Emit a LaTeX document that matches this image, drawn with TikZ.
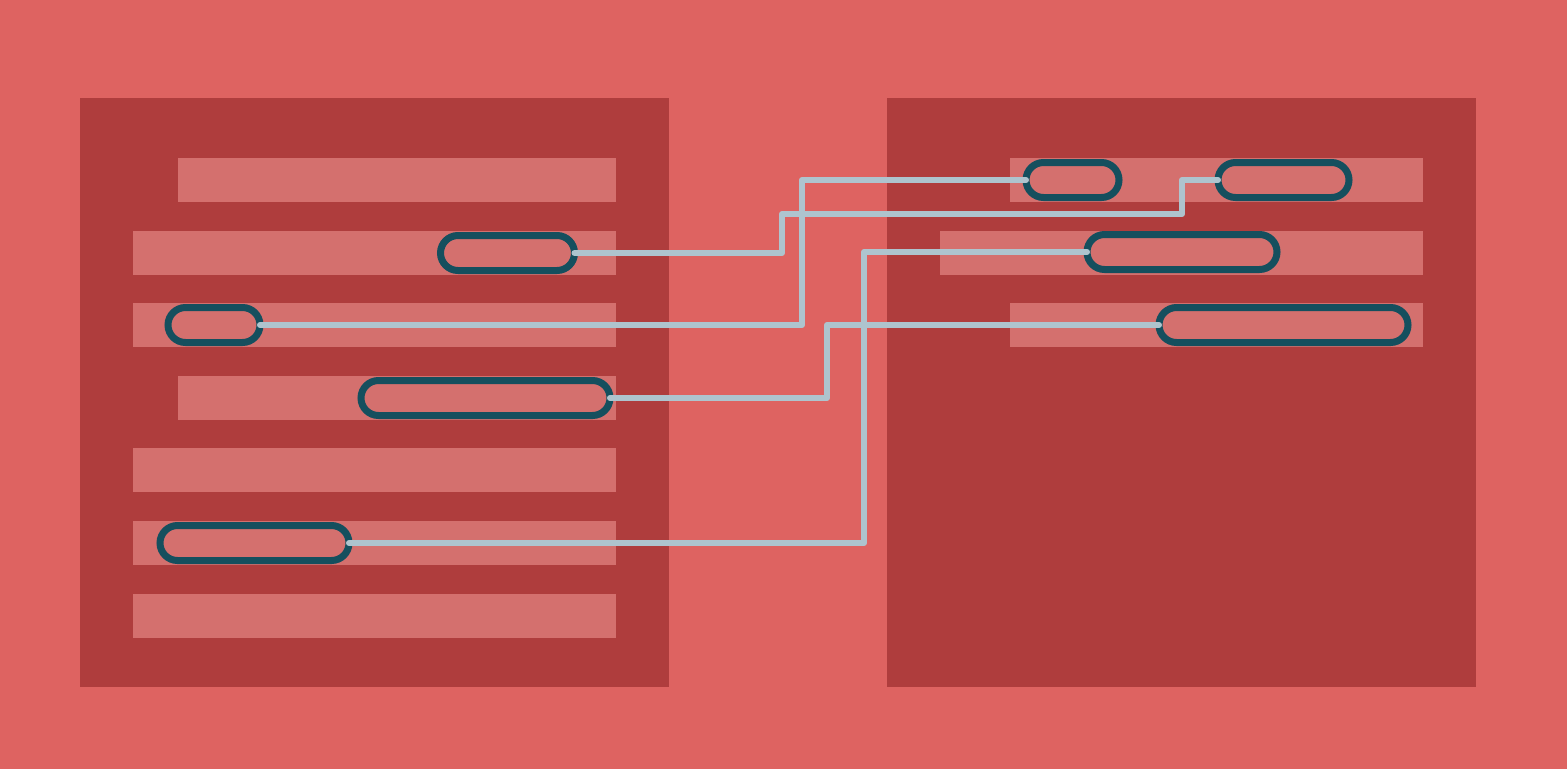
\documentclass[tikz,border=0pt]{standalone}
\begin{document}
\definecolor{bgred}{HTML}{DE6361}
\definecolor{panelred}{HTML}{AF3D3D}
\definecolor{barred}{HTML}{D4706E}
\definecolor{pillteal}{HTML}{154F5E}
\definecolor{wireblue}{HTML}{AEC4CE}
\begin{tikzpicture}[x=1pt,y=-1pt,
  panel/.style={fill=panelred,draw=none,inner sep=0pt,outer sep=0pt,anchor=north west},
  bar/.style={fill=barred,draw=none,inner sep=0pt,outer sep=0pt,anchor=north west,minimum height=44pt},
  pill/.style={draw=pillteal,line width=7pt,rounded corners=17.5pt,inner sep=0pt,outer sep=0pt,minimum height=35pt},
  wire/.style={draw=wireblue,line width=6pt,line cap=round,line join=round}]
  % canvas
  \fill[bgred] (0,0) rectangle (1567,769);
  \useasboundingbox (0,0) rectangle (1567,769);
  % panels
  \node[panel,minimum width=589pt,minimum height=589pt] (lp) at (80,98) {};
  \node[panel,minimum width=589pt,minimum height=589pt] (rp) at (887,98) {};
  % rows of the left panel
  \node[bar,minimum width=438pt] (l1) at (178,158) {};
  \node[bar,minimum width=483pt] (l2) at (133,231) {};
  \node[bar,minimum width=483pt] (l3) at (133,303) {};
  \node[bar,minimum width=438pt] (l4) at (178,376) {};
  \node[bar,minimum width=483pt] (l5) at (133,448) {};
  \node[bar,minimum width=483pt] (l6) at (133,521) {};
  \node[bar,minimum width=483pt] (l7) at (133,594) {};
  % rows of the right panel
  \node[bar,minimum width=413pt] (r1) at (1010,158) {};
  \node[bar,minimum width=483pt] (r2) at (940,231) {};
  \node[bar,minimum width=413pt] (r3) at (1010,303) {};
  % highlighted spans
  \node[pill,minimum width=134pt] (pa) at (507.5,253) {};
  \node[pill,minimum width=92pt]  (pb) at (214,325) {};
  \node[pill,minimum width=249pt] (pc) at (485.5,398) {};
  \node[pill,minimum width=189pt] (pd) at (254.5,543) {};
  \node[pill,minimum width=93pt]  (pe) at (1072.5,180) {};
  \node[pill,minimum width=131pt] (pf) at (1283.5,180) {};
  \node[pill,minimum width=190pt] (pg) at (1182,252) {};
  \node[pill,minimum width=249pt] (ph) at (1283.5,325) {};
  % bends of the links
  \coordinate (ka) at (782,214);
  \coordinate (kb) at (1182,180);
  \coordinate (kc) at (802,180);
  \coordinate (kd) at (827,325);
  \coordinate (ke) at (864,252);
  % links
  \draw[wire] (pa.east) -| (ka) -| (kb) -- (pf.west);
  \draw[wire] (pb.east) -| (kc) -- (pe.west);
  \draw[wire] (pc.east) -| (kd) -- (ph.west);
  \draw[wire] (pd.east) -| (ke) -- (pg.west);
\end{tikzpicture}
\end{document}
